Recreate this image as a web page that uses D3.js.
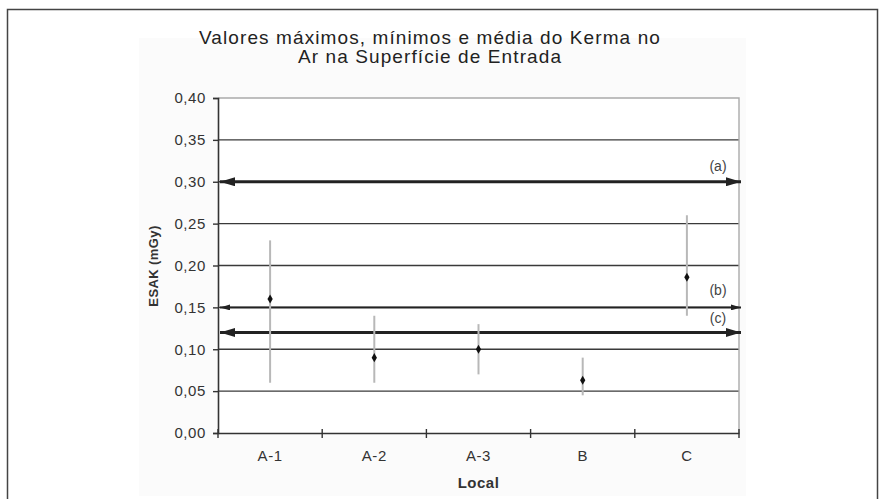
<!DOCTYPE html>
<html><head><meta charset="utf-8">
<script src="https://cdn.jsdelivr.net/npm/d3@7"></script>
<style>body{margin:0;background:#fff;} svg{display:block;}</style>
</head><body>
<script>
const categories = ["A-1", "A-2", "A-3", "B", "C"];
const meanValues = [0.16, 0.09, 0.10, 0.063, 0.186];
const minValues = [0.06, 0.06, 0.07, 0.045, 0.14];
const maxValues = [0.23, 0.14, 0.13, 0.09, 0.26];
const yTicks = [0, 0.05, 0.10, 0.15, 0.20, 0.25, 0.30, 0.35, 0.40];
const refValues = [0.30, 0.15, 0.12];
const refLabels = ["(a)", "(b)", "(c)"];
const titleLines = ["Valores máximos, mínimos e média do Kerma no", "Ar na Superfície de Entrada"];
const yLabel = "ESAK (mGy)";
const xLabel = "Local";

const W = 885, H = 499;
const svg = d3.select("body").append("svg").attr("width", W).attr("height", H);
const fontFam = "'Liberation Sans', Arial, sans-serif";

// outer frame
svg.append("rect").attr("x", 7.5).attr("y", 9.5).attr("width", 870).attr("height", 500)
  .attr("fill", "none").attr("stroke", "#444").attr("stroke-width", 1.5);
// chart area background
svg.append("rect").attr("x", 139).attr("y", 38).attr("width", 607).attr("height", 458).attr("fill", "#fbfbfb");

const m = {left: 218, right: 739, top: 98, bottom: 433};
const x = d3.scaleBand().domain(categories).range([m.left, m.right]);
const y = d3.scaleLinear().domain([0, 0.40]).range([m.bottom, m.top]);

svg.append("rect").attr("x", m.left).attr("y", m.top).attr("width", m.right - m.left).attr("height", m.bottom - m.top).attr("fill", "#fff");

// gridlines
svg.append("g").selectAll("line").data(yTicks.filter(v => v > 0 && v < 0.40)).join("line")
  .attr("x1", m.left).attr("x2", m.right).attr("y1", d => y(d)).attr("y2", d => y(d))
  .attr("stroke", "#3a3a3a").attr("stroke-width", 1.4);
// top and right border
svg.append("path").attr("d", `M${m.left},${y(0.40)}H${m.right}V${m.bottom}`)
  .attr("fill", "none").attr("stroke", "#aaa").attr("stroke-width", 1.4);

// axes
const fmt = d => d3.format(".2f")(d).replace(".", ",");
const yAxis = svg.append("g").attr("transform", `translate(${m.left},0)`)
  .call(d3.axisLeft(y).tickValues(yTicks).tickFormat(fmt).tickSize(5).tickPadding(7));
const xAxis = svg.append("g").attr("transform", `translate(0,${m.bottom})`)
  .call(d3.axisBottom(x).tickSize(0).tickPadding(17));
[yAxis, xAxis].forEach(g => {
  g.select(".domain").attr("stroke", "#333").attr("stroke-width", 1.6);
  g.selectAll(".tick line").attr("stroke", "#333").attr("stroke-width", 1.4);
  g.selectAll("text").attr("font-family", fontFam).attr("font-size", 15).attr("letter-spacing", 0.6).attr("fill", "#333");
});
// category boundary ticks on x axis
const bounds = categories.map(c => x(c)).concat([m.right]);
svg.append("g").selectAll("line").data(bounds).join("line")
  .attr("x1", d => d).attr("x2", d => d).attr("y1", m.bottom - 4).attr("y2", m.bottom + 5)
  .attr("stroke", "#333").attr("stroke-width", 1.4);

// reference lines with arrows
const defs = svg.append("defs");
defs.append("marker").attr("id", "arrE").attr("viewBox", "0 0 10 6").attr("refX", 10).attr("refY", 3)
  .attr("markerWidth", 5).attr("markerHeight", 3).attr("markerUnits", "strokeWidth").attr("orient", "auto")
  .append("path").attr("d", "M0,0L10,3L0,6Z").attr("fill", "#222");
defs.append("marker").attr("id", "arrS").attr("viewBox", "0 0 10 6").attr("refX", 0).attr("refY", 3)
  .attr("markerWidth", 5).attr("markerHeight", 3).attr("markerUnits", "strokeWidth").attr("orient", "auto")
  .append("path").attr("d", "M10,0L0,3L10,6Z").attr("fill", "#222");
const refWidths = [3, 2, 3];
svg.append("g").selectAll("line").data(refValues).join("line")
  .attr("x1", m.left + 2).attr("x2", m.right + 2).attr("y1", d => y(d)).attr("y2", d => y(d))
  .attr("stroke", "#222").attr("stroke-width", (d, i) => refWidths[i])
  .attr("marker-start", "url(#arrS)").attr("marker-end", "url(#arrE)");
const refLabelDy = [-11, -12, -10];
svg.append("g").selectAll("text").data(refValues).join("text")
  .attr("x", 718).attr("y", (d, i) => y(d) + refLabelDy[i])
  .attr("text-anchor", "middle").attr("font-family", fontFam).attr("font-size", 14).attr("fill", "#444")
  .text((d, i) => refLabels[i]);

// error bars
const cx = c => x(c) + x.bandwidth() / 2;
svg.append("g").selectAll("line").data(categories).join("line")
  .attr("x1", cx).attr("x2", cx).attr("y1", (c, i) => y(maxValues[i])).attr("y2", (c, i) => y(minValues[i]))
  .attr("stroke", "#b8b8b8").attr("stroke-width", 2);
// mean markers
svg.append("g").selectAll("path").data(categories).join("path")
  .attr("transform", (c, i) => `translate(${cx(c)},${y(meanValues[i])})`)
  .attr("d", d3.symbol(d3.symbolDiamond, 24)).attr("fill", "#111");

// titles
svg.append("text").attr("x", 430).attr("y", 44).attr("text-anchor", "middle")
  .attr("font-family", fontFam).attr("font-size", 19).attr("letter-spacing", 1.1).attr("fill", "#222")
  .selectAll("tspan").data(titleLines).join("tspan").attr("x", 430).attr("dy", (d, i) => i ? 19 : 0).text(d => d);
svg.append("text").attr("transform", `translate(158,266) rotate(-90)`).attr("text-anchor", "middle")
  .attr("font-family", fontFam).attr("font-size", 13).attr("font-weight", "bold").attr("letter-spacing", 0.4).attr("fill", "#333").text(yLabel);
svg.append("text").attr("x", x("A-3") + x.bandwidth() / 2).attr("y", 488).attr("text-anchor", "middle")
  .attr("font-family", fontFam).attr("font-size", 15).attr("font-weight", "bold").attr("letter-spacing", 0.5).attr("fill", "#333").text(xLabel);
</script>
</body></html>
